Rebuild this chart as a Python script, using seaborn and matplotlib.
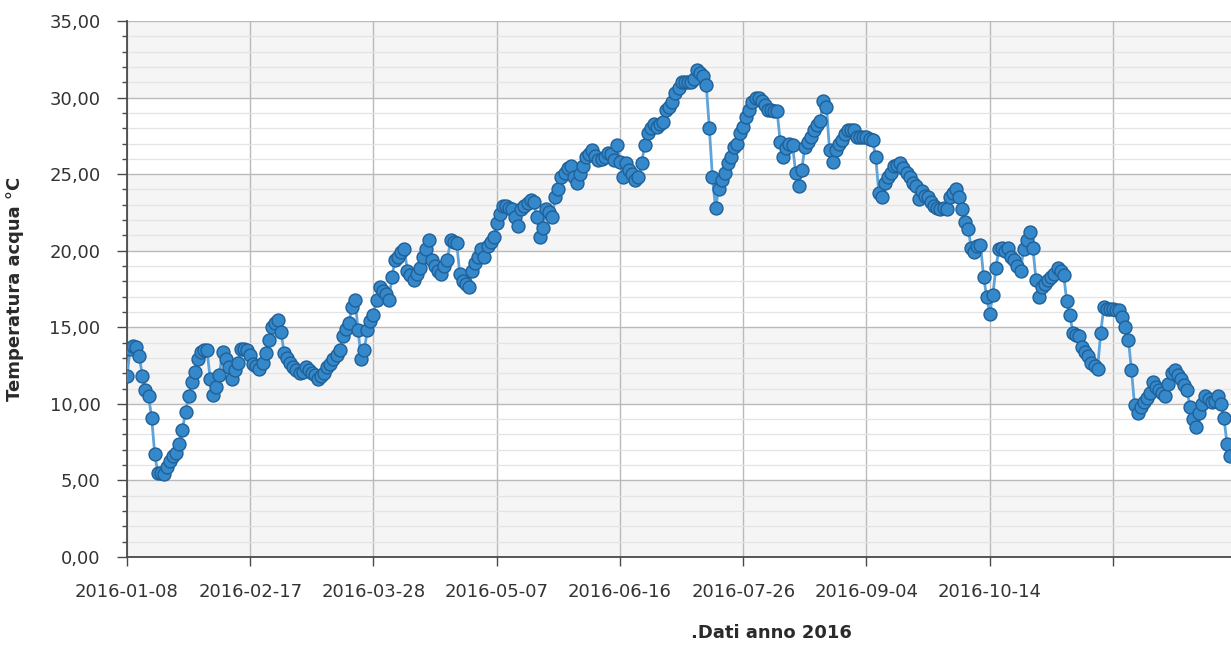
import pandas as pd
import matplotlib
matplotlib.use("Agg")
import matplotlib.pyplot as plt
import matplotlib.dates as mdates
from matplotlib.ticker import MultipleLocator, FuncFormatter
import seaborn as sns

# Daily water temperature (°C), 2016-01-08 .. 2016-12-31
start_date = "2016-01-08"
gennaio = [11.8, 13.6, 13.8, 13.7, 13.1, 11.8, 10.9, 10.5, 9.1, 6.7,
           5.5, 5.5, 5.4, 5.9, 6.3, 6.6, 6.8, 7.4, 8.3, 9.5,
           10.5, 11.4, 12.1, 12.9]
febbraio = [13.4, 13.5, 13.5, 11.6, 10.6, 11.1,
            11.9, 13.4, 12.9, 12.4, 11.6, 12.2, 12.7, 13.6, 13.6, 13.5,
            13.2, 12.6, 12.5, 12.3, 12.7, 13.3, 14.2, 15.0, 15.3, 15.5,
            14.7, 13.3, 13.0]
marzo = [12.7, 12.4, 12.2, 12.0, 12.1, 12.4, 12.2,
         12.0, 11.9, 11.6, 11.8, 12.0, 12.4, 12.6, 12.9, 13.2, 13.5,
         14.4, 14.9, 15.3, 16.3, 16.8, 14.8, 12.9, 13.5, 14.8, 15.4,
         15.8, 16.8, 17.6, 17.4]
aprile = [17.2, 16.8, 18.3, 19.4, 19.6, 19.9,
          20.1, 18.7, 18.4, 18.1, 18.5, 18.9, 19.6, 20.1, 20.7, 19.4,
          19.0, 18.7, 18.5, 19.0, 19.4, 20.7, 20.6, 20.5, 18.5, 18.0,
          17.8, 17.6, 18.7, 19.2]
maggio = [19.6, 20.1, 19.6, 20.3, 20.6, 20.9,
          21.8, 22.4, 22.9, 22.9, 22.8, 22.7, 22.2, 21.6, 22.7, 22.9,
          23.1, 23.3, 23.2, 22.2, 20.9, 21.5, 22.7, 22.5, 22.2, 23.5,
          24.0, 24.8, 25.1, 25.4, 25.5]
giugno = [24.8, 24.4, 25.0, 25.5, 26.1,
          26.3, 26.6, 26.2, 25.9, 26.0, 26.1, 26.4, 26.3, 25.9, 26.9,
          25.8, 24.8, 25.7, 25.3, 25.0, 24.6, 24.8, 25.7, 26.9, 27.7,
          28.0, 28.3, 28.1, 28.3, 28.4]
luglio = [29.2, 29.4, 29.7, 30.3, 30.6,
          31.0, 31.0, 31.0, 31.0, 31.2, 31.8, 31.6, 31.4, 30.8, 28.0,
          24.8, 22.8, 24.0, 24.6, 25.1, 25.7, 26.1, 26.8, 27.0, 27.7,
          28.1, 28.7, 29.2, 29.7, 30.0, 30.0]
agosto = [29.8, 29.5, 29.2, 29.2,
          29.1, 29.1, 27.1, 26.1, 26.7, 27.0, 26.9, 25.1, 24.2, 25.3,
          26.8, 27.1, 27.4, 27.9, 28.2, 28.5, 29.8, 29.4, 26.6, 25.8,
          26.6, 27.0, 27.2, 27.6, 27.9, 27.9, 27.9]
settembre = [27.4, 27.4, 27.4,
             27.4, 27.3, 27.2, 26.1, 23.8, 23.5, 24.4, 24.8, 25.1, 25.5,
             25.6, 25.7, 25.4, 25.1, 24.8, 24.4, 24.2, 23.4, 23.9, 23.6,
             23.5, 23.2, 22.9, 22.8, 22.7, 22.8, 22.7]
ottobre = [23.5, 23.8, 24.0,
           23.5, 22.7, 21.9, 21.4, 20.2, 19.9, 20.3, 20.4, 18.3, 17.0,
           15.9, 17.1, 18.9, 20.1, 20.2, 20.0, 20.2, 19.6, 19.4, 19.0,
           18.7, 20.1, 20.7, 21.2, 20.2, 18.1, 17.0, 17.6]
novembre = [17.8, 18.1,
            18.3, 18.5, 18.9, 18.7, 18.4, 16.7, 15.8, 14.6, 14.5, 14.4,
            13.7, 13.4, 13.1, 12.7, 12.5, 12.3, 14.6, 16.3, 16.2, 16.2,
            16.2, 16.1, 16.1, 15.7, 15.0, 14.2, 12.2, 9.9]
dicembre = [9.4, 9.8,
            10.1, 10.4, 10.7, 11.4, 11.1, 10.9, 10.7, 10.5, 11.3, 12.0,
            12.2, 11.9, 11.6, 11.2, 10.9, 9.8, 9.0, 8.5, 9.4, 10.0,
            10.5, 10.3, 10.1, 10.2, 10.5, 10.0, 9.1, 7.4, 6.6]

tick_dates = ["2016-01-08", "2016-02-17", "2016-03-28", "2016-05-07",
              "2016-06-16", "2016-07-26", "2016-09-04", "2016-10-14",
              "2016-11-23"]
tick_labels = ["2016-01-08", "2016-02-17", "2016-03-28", "2016-05-07",
               "2016-06-16", "2016-07-26", "2016-09-04", "2016-10-14", ""]
y_ticks = [0, 5, 10, 15, 20, 25, 30, 35]

temps = (gennaio + febbraio + marzo + aprile + maggio + giugno + luglio
         + agosto + settembre + ottobre + novembre + dicembre)
dates = pd.date_range(start_date, periods=len(temps), freq="D")
df = pd.DataFrame({"data": dates, "temperatura": temps})

sns.set_theme(style="white")
plt.rcParams["font.family"] = ["DejaVu Sans"]

W, H = 1231, 645
fig = plt.figure(figsize=(W / 100, H / 100), dpi=100)
fig.patch.set_facecolor("white")
ax = fig.add_axes([127 / W, 88 / H, 1104 / W, 536 / H])
ax.set_facecolor("white")

# alternating horizontal bands
for lo in y_ticks[:-1:2]:
    ax.axhspan(lo, lo + 5, color="#f5f5f5", zorder=0, lw=0)

sns.lineplot(data=df, x="data", y="temperatura", ax=ax,
             color="#5ea3da", linewidth=2.0, marker="o", markersize=9.3,
             markerfacecolor="#3588c9", markeredgecolor="#1f6099",
             markeredgewidth=1.0, zorder=3)

x0 = mdates.date2num(pd.Timestamp(start_date))
ax.set_xlim(x0, x0 + 358.3)
ax.set_ylim(0, 35)

ax.set_xticks(mdates.date2num(pd.to_datetime(tick_dates)))
ax.set_xticklabels(tick_labels)
ax.set_yticks(y_ticks)
ax.yaxis.set_minor_locator(MultipleLocator(1))
ax.yaxis.set_major_formatter(FuncFormatter(lambda v, _: f"{v:.2f}".replace(".", ",")))

ax.set_axisbelow(True)
ax.grid(which="major", axis="both", color="#bababa", linewidth=1.0)
ax.grid(which="minor", axis="y", color="#e4e4e4", linewidth=0.9)

for side in ("top", "right"):
    ax.spines[side].set_visible(False)
for side in ("left", "bottom"):
    ax.spines[side].set_color("#4a4a4a")
    ax.spines[side].set_linewidth(1.3)

ax.tick_params(axis="y", which="major", direction="out", length=7, width=1,
               color="#4a4a4a", pad=12, labelsize=13, labelcolor="#333333", left=True)
ax.tick_params(axis="y", which="minor", direction="out", length=3.5, width=1,
               color="#4a4a4a", left=True)
ax.tick_params(axis="x", which="major", direction="out", length=6.5, width=1,
               color="#4a4a4a", pad=12, labelsize=13, labelcolor="#333333", bottom=True)

ax.set_xlabel("")
ax.set_ylabel("Temperatura acqua °C", fontsize=13, fontweight="bold", color="#2a2a2a")
ax.yaxis.set_label_coords(-0.093, 0.5)
fig.text(771 / W, 1 - 633 / H, ".Dati anno 2016", ha="center", va="center",
         fontsize=13, fontweight="bold", color="#2a2a2a")

fig.savefig("out.png", dpi=100)
